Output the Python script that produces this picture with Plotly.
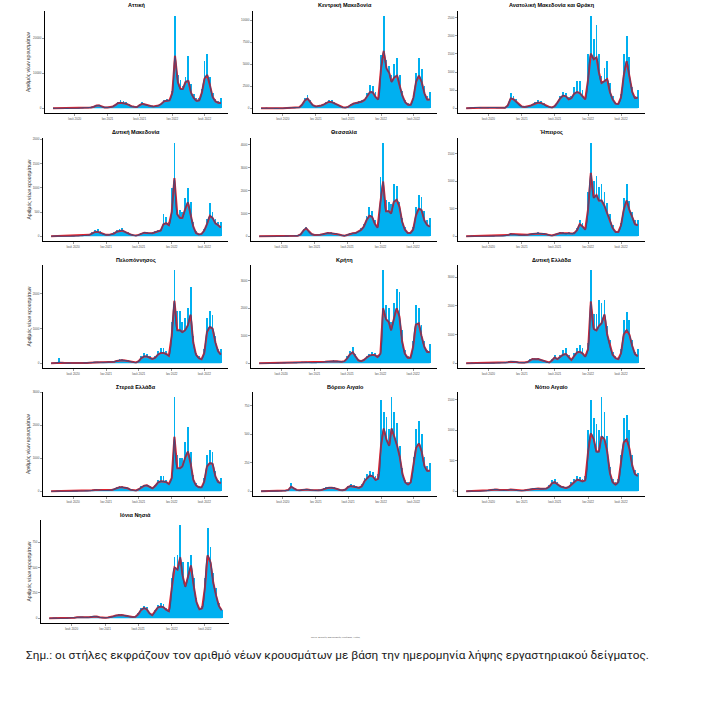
import plotly.graph_objects as go

# ---------------- data (semi-monthly) ----------------
months = [(2020, m) for m in range(3, 13)] + [(2021, m) for m in range(1, 13)] + [(2022, m) for m in range(1, 10)]
dates = [f"{y}-{m:02d}-{d:02d}" for (y, m) in months for d in (1, 16)] + ["2022-10-01"]

regions = ["Αττική", "Κεντρική Μακεδονία", "Ανατολική Μακεδονία και Θράκη",
           "Δυτική Μακεδονία", "Θεσσαλία", "Ήπειρος",
           "Πελοπόννησος", "Κρήτη", "Δυτική Ελλάδα",
           "Στερεά Ελλάδα", "Βόρειο Αιγαίο", "Νότιο Αιγαίο",
           "Ιόνια Νησιά"]

attica_cases = [5,40,60,40,20,10,15,20,30,50, 100,150,200,250,300,500,900,1000,500,300,
                300,350,600,1200,1800,2300,2000,1800,1300,700, 500,400,1000,1700,1300,900,800,600,700,900,
                1500,2500,2700,2600,5000,26500,9500,8000,6500,9000, 15000,7000,4000,3000,3000,5500,13500,15500,9000,4500,
                2600,2000,3000]
attica_avg = [5,30,50,35,15,10,12,18,25,45, 90,130,180,220,280,450,800,850,450,280,
              280,320,550,1000,1500,1600,1500,1300,1000,600, 450,380,900,1300,1100,800,700,550,620,800,
              1300,2000,2200,2300,4500,15000,7500,5500,5500,7500, 7800,4500,3000,2200,2300,4500,8500,9500,6500,3200,
              2000,1600,1500]

cm_cases = [5,20,30,20,10,5,5,10,20,40, 60,80,100,120,150,500,1200,1570,900,400,
            250,300,400,550,750,1000,900,700,500,300, 150,100,200,450,650,700,800,900,1100,1700,
            2700,2500,1800,1100,6000,10500,5500,4800,3800,5000, 5700,3800,2000,1000,600,500,1500,4000,5700,4500,
            2500,1400,1800]
cm_avg = [3,15,25,18,8,4,4,8,15,30, 50,70,85,100,130,400,900,1100,700,350,
          220,260,330,450,600,750,700,550,400,250, 130,90,170,380,550,600,680,780,950,1400,
          1850,1800,1300,1000,4500,6500,4500,4000,3000,3500, 3700,2500,1400,700,400,400,1200,3000,3700,3000,
          1700,1000,1000]

emth_cases = [5,15,20,25,30,25,20,20,25,30, 30,25,20,20,20,100,420,330,250,120,
              60,50,50,80,120,180,220,200,150,80, 50,30,80,200,350,450,420,300,350,600,
              750,750,500,300,1500,2550,1900,2300,1500,900, 1100,1300,700,350,180,150,400,1500,2000,1400,
              600,350,500]
emth_avg = [3,10,15,20,25,20,18,18,20,25, 25,20,18,18,18,80,270,250,180,100,
            50,40,45,70,100,140,160,150,110,60, 40,25,60,160,280,350,330,250,280,400,
            450,420,330,250,800,1500,1350,1400,1000,700, 750,800,450,250,130,120,300,900,1300,900,
            450,280,300]

dm_cases = [2,5,8,5,3,2,2,3,5,8, 10,15,20,25,40,80,140,160,100,60,
            40,40,50,80,130,160,170,120,80,50, 30,20,40,70,90,80,70,80,100,130,
            150,450,400,300,1000,1930,550,550,500,800, 1000,700,300,100,50,60,150,350,680,500,
            350,300,300]
dm_avg = [1,3,5,4,2,1,1,2,4,6, 8,12,16,20,30,60,90,95,70,45,
          30,30,40,60,95,115,120,90,60,40, 25,15,30,55,75,70,60,65,85,105,
          120,250,270,230,500,1200,450,380,380,550, 700,450,200,70,40,50,120,250,420,380,
          270,230,180]

th_cases = [2,5,8,6,4,3,3,4,5,8, 10,15,20,25,40,100,300,420,250,120,
            80,70,80,110,150,180,170,160,150,100, 60,40,80,150,160,180,250,350,550,900,
            1300,1100,700,450,2600,4100,1600,1500,1400,2300, 2200,1500,800,400,200,200,400,1300,1800,1700,
            1100,700,800]
th_avg = [1,3,5,4,3,2,2,3,4,6, 8,12,16,20,30,80,250,350,200,100,
          60,55,65,90,120,140,135,125,115,80, 50,30,60,110,130,140,200,280,420,700,
          900,850,550,380,1500,2400,1100,1100,1000,1500, 1600,1300,650,300,150,150,300,900,1200,1150,
          700,500,420]

ep_cases = [1,3,4,3,2,1,1,2,3,4, 5,6,8,10,15,30,60,50,40,30,
            25,30,35,50,60,65,70,60,65,50, 30,20,40,60,80,70,60,70,65,70,
            150,300,250,150,800,1700,1000,1100,900,950, 800,600,400,200,100,100,250,700,950,650,
            450,300,300]
ep_avg = [1,2,3,2,1,1,1,1,2,3, 4,5,6,8,12,22,40,38,30,22,
          20,22,28,38,45,50,52,48,48,38, 22,15,30,45,60,55,48,55,50,55,
          110,220,180,120,500,1150,700,750,650,650, 550,420,300,150,80,80,200,480,650,480,
          350,220,200]

pe_cases = [5,10,20,160,20,10,8,8,10,10, 12,12,15,15,20,30,50,45,40,35,
            40,45,50,60,90,120,120,100,90,70, 40,30,80,200,300,280,220,150,200,350,
            450,450,350,250,1200,2700,1500,1500,1200,1300, 1600,2200,800,300,200,150,400,1300,1500,1400,
            800,400,400]
pe_avg = [3,8,12,30,15,8,6,6,8,8, 10,10,12,12,15,22,35,35,30,28,
          30,35,40,45,70,90,90,80,70,50, 30,25,60,150,200,200,160,130,160,250,
          300,300,270,220,800,1800,950,950,900,950, 1100,1400,600,250,150,120,300,900,1050,1000,
          600,350,250]

cr_cases = [2,5,8,6,4,3,5,10,15,20, 25,25,30,30,35,40,50,45,35,30,
            30,35,40,50,70,90,100,110,100,90, 70,100,250,450,600,350,150,100,150,250,
            350,400,380,300,500,3400,2100,2000,1500,2200, 2700,2600,1200,500,250,250,800,2100,2000,1400,
            800,500,700]
cr_avg = [1,3,5,4,3,2,4,8,12,15, 18,20,22,24,27,30,38,35,28,24,
          24,28,32,40,55,65,75,80,75,65, 55,80,180,320,400,250,110,80,120,200,
          280,300,300,230,350,2000,1600,1500,1200,1600, 2000,1700,800,350,200,200,600,1400,1450,1000,
          600,420,400]

wg_cases = [2,5,8,6,4,3,3,4,5,8, 10,15,20,25,30,50,70,80,60,40,
            30,30,60,150,200,180,200,150,120,60, 40,150,300,200,300,450,520,300,150,350,
            550,650,550,300,700,3260,1700,1700,2200,2100, 2200,1300,800,400,250,200,500,1500,1800,1500,
            800,400,500]
wg_avg = [1,3,5,4,3,2,2,3,4,6, 8,12,16,20,25,40,55,60,45,30,
          25,25,45,110,150,140,150,115,90,45, 30,100,200,150,220,300,320,200,120,250,
          380,400,350,230,500,2150,1200,1150,1300,1400, 1700,1000,600,300,180,150,350,1000,1150,1000,
          600,320,250]

st_cases = [1,3,5,4,3,2,2,3,4,6, 8,10,12,15,20,35,60,55,40,30,
            30,35,50,80,120,150,150,130,110,60, 40,30,80,150,200,200,150,100,200,350,
            450,450,350,250,500,2860,1100,1000,1000,1500, 1950,1200,500,250,150,150,400,1100,1250,1200,
            600,350,400]
st_avg = [1,2,3,3,2,1,1,2,3,5, 6,8,10,12,16,28,40,40,32,25,
          25,28,40,65,95,120,120,110,90,50, 32,25,60,120,170,180,130,90,160,260,
          300,300,280,220,400,1650,700,700,750,1000, 1200,850,350,180,120,120,300,750,850,830,
          450,280,250]

na_cases = [1,2,3,2,2,1,2,3,5,8, 15,75,30,15,10,15,20,20,15,12,
            10,12,15,25,35,40,40,35,25,15, 12,20,50,60,55,45,40,60,120,150,
            180,170,130,150,800,700,650,550,830,700, 600,400,200,100,80,100,300,550,620,500,
            300,220,250]
na_avg = [1,1,2,2,1,1,1,2,4,6, 12,40,25,12,8,12,16,16,12,10,
          8,10,12,20,28,32,32,28,20,12, 10,15,38,45,42,35,32,45,90,115,
          140,130,100,110,400,550,450,400,550,480, 400,300,150,80,60,80,220,380,420,350,
          220,180,180]

sa_cases = [1,3,3,2,1,2,5,10,20,30, 40,35,25,20,20,25,35,30,20,15,
            15,20,30,40,50,60,60,50,50,60, 100,180,200,150,100,80,70,90,150,200,
            250,230,200,250,1000,1500,1200,1100,1000,1550, 1300,900,400,200,150,200,600,1200,1250,1000,
            600,350,300]
sa_avg = [1,2,2,1,1,1,4,8,15,22, 30,28,20,16,16,20,28,24,16,12,
          12,16,24,32,40,45,45,40,40,45, 75,130,150,110,80,65,55,70,110,150,
          190,180,160,180,650,950,850,650,650,900, 850,650,300,150,110,150,450,800,850,700,
          420,280,250]

io_cases = [1,2,3,2,1,1,2,4,6,8, 12,15,15,12,12,18,25,22,12,8,
            8,10,15,25,35,40,40,35,30,20, 15,20,50,100,120,110,60,40,80,130,
            150,140,100,80,400,600,620,922,550,350, 550,620,400,200,100,120,400,890,700,450,
            300,150,80]
io_avg = [1,1,2,1,1,1,1,3,5,6, 10,12,12,10,10,14,20,18,10,6,
          6,8,12,20,28,32,32,28,24,16, 12,16,40,80,100,90,50,32,65,105,
          115,110,85,70,300,500,480,600,420,310, 420,520,320,160,90,100,300,620,550,350,
          220,120,80]

cases = [attica_cases, cm_cases, emth_cases, dm_cases, th_cases, ep_cases, pe_cases,
         cr_cases, wg_cases, st_cases, na_cases, sa_cases, io_cases]
avgs = [attica_avg, cm_avg, emth_avg, dm_avg, th_avg, ep_avg, pe_avg,
        cr_avg, wg_avg, st_avg, na_avg, sa_avg, io_avg]

y_tick_step = [10000, 2500, 500, 500, 1000, 500, 1000, 1000, 1000, 1000, 250, 500, 250]

x_tick_vals = ["2020-07-01", "2021-01-01", "2021-07-01", "2022-01-01", "2022-07-01"]
x_tick_text = ["Ιουλ 2020", "Ιαν 2021", "Ιουλ 2021", "Ιαν 2022", "Ιουλ 2022"]

y_title = "Αριθμός νέων κρουσμάτων"
source_text = "Πηγή: Εθνικός Οργανισμός Δημόσιας Υγείας"
caption = "Σημ.: οι στήλες εκφράζουν τον αριθμό νέων κρουσμάτων με βάση την ημερομηνία λήψης εργαστηριακού δείγματος."

# ---------------- layout geometry (pixels in the 712x720 window) ----------------
W, H = 712, 720


def px(x):
    return x / W


def py(y):
    return 1 - y / H


panels = [(45, 228, 11, 113), (253, 437, 11, 113), (458, 645, 11, 113),
          (43, 228, 138, 241), (251, 437, 138, 241), (458, 645, 138, 241),
          (43, 228, 265, 368), (251, 437, 265, 368), (458, 645, 265, 368),
          (43, 228, 392, 496), (253, 437, 392, 496), (458, 645, 392, 496),
          (41, 229, 520, 623)]
title_y = [5, 5, 5, 132, 132, 132, 260, 260, 260, 387, 387, 387, 515]

FONT = "Liberation Sans"
BAR = "#00B0F0"
RED = "#E3202B"
DARK = "#45487A"
DAY_MS = 86400000

fig = go.Figure()
annotations = []
layout_axes = {}

for k in range(13):
    n = k + 1
    xs = "x" if n == 1 else f"x{n}"
    ys = "y" if n == 1 else f"y{n}"
    xa = "xaxis" if n == 1 else f"xaxis{n}"
    ya = "yaxis" if n == 1 else f"yaxis{n}"
    x0, x1, yt, yb = panels[k]

    # body of the daily bars (follows the rolling level)
    fig.add_trace(go.Scatter(x=dates, y=avgs[k], mode="lines", line=dict(width=0, color=BAR),
                             fill="tozeroy", fillcolor=BAR, xaxis=xs, yaxis=ys, hoverinfo="skip"))
    # daily peaks
    fig.add_trace(go.Bar(x=dates, y=cases[k], width=10 * DAY_MS, marker_color=BAR,
                         marker_line_width=0, xaxis=xs, yaxis=ys))
    fig.add_trace(go.Scatter(x=dates, y=avgs[k], mode="lines", line=dict(color=RED, width=2),
                             xaxis=xs, yaxis=ys, hoverinfo="skip"))
    fig.add_trace(go.Scatter(x=dates, y=avgs[k], mode="lines",
                             line=dict(color=DARK, width=1.1, shape="spline", smoothing=1.0),
                             xaxis=xs, yaxis=ys, hoverinfo="skip"))

    m = max(cases[k])
    layout_axes[xa] = dict(domain=[px(x0), px(x1)], anchor=ys, type="date",
                           range=["2020-01-16", "2022-11-10"], automargin=False,
                           tickvals=x_tick_vals, ticktext=x_tick_text,
                           tickfont=dict(size=3, color="#4d4d4d", family=FONT),
                           showline=True, linecolor="black", linewidth=1,
                           ticks="outside", ticklen=2, tickwidth=0.5, tickcolor="#333",
                           showgrid=False, zeroline=False, fixedrange=True)
    layout_axes[ya] = dict(domain=[py(yb), py(yt)], anchor=xs, automargin=False,
                           range=[-0.05 * m, 1.05 * m], dtick=y_tick_step[k], tick0=0,
                           tickformat="d",
                           tickfont=dict(size=3, color="#4d4d4d", family=FONT),
                           showline=True, linecolor="black", linewidth=1,
                           ticks="outside", ticklen=2, tickwidth=0.5, tickcolor="#333",
                           showgrid=False, zeroline=False, fixedrange=True)

    annotations.append(dict(text=f"<b>{regions[k]}</b>", x=px((x0 + x1) / 2), y=py(title_y[k]),
                            xref="paper", yref="paper", xanchor="center", yanchor="middle",
                            showarrow=False, font=dict(size=5.5, color="black", family=FONT)))
    if k % 3 == 0:
        annotations.append(dict(text=y_title, x=px(28), y=py((yt + yb) / 2),
                                xref="paper", yref="paper", xanchor="center", yanchor="middle",
                                textangle=-90, showarrow=False,
                                font=dict(size=5, color="#333", family=FONT)))

annotations.append(dict(text=source_text, x=px(336), y=py(637), xref="paper", yref="paper",
                        xanchor="center", yanchor="middle", showarrow=False,
                        font=dict(size=2.5, color="#555", family=FONT)))
annotations.append(dict(text=caption, x=px(24), y=py(655), xref="paper", yref="paper",
                        xanchor="left", yanchor="middle", showarrow=False,
                        font=dict(size=11.8, color="#1a1a1a", family="Roboto")))

fig.update_layout(width=W, height=H, margin=dict(l=0, r=0, t=0, b=0, autoexpand=False),
                  paper_bgcolor="white", plot_bgcolor="white", showlegend=False,
                  hovermode=False, dragmode=False,
                  bargap=0, annotations=annotations, **layout_axes)

# remove the default 8px page margin so the figure fills the window exactly
fig.write_html("out.html", config={"displayModeBar": False, "staticPlot": True},
               post_script="document.body.style.margin='0';")
